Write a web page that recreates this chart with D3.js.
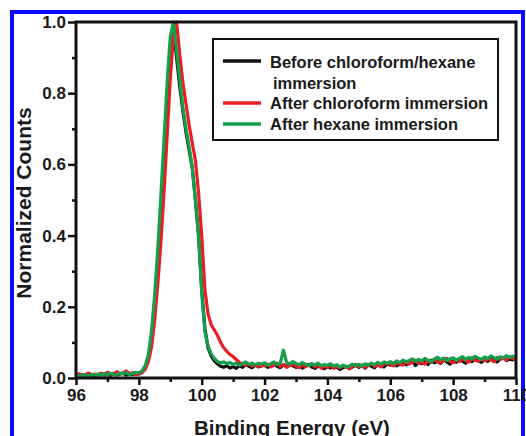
<!DOCTYPE html>
<html><head><meta charset="utf-8">
<script src="https://cdn.jsdelivr.net/npm/d3@7"></script>
<style>html,body{margin:0;padding:0;background:#fff;}svg{display:block;}</style>
</head><body>
<script>
const energies = [
96.0,96.1,96.2,96.3,96.4,96.5,96.6,96.7,96.8,96.9,
97.0,97.1,97.2,97.3,97.4,97.5,97.6,97.7,97.8,97.9,
98.0,98.1,98.2,98.3,98.4,98.5,98.6,98.7,98.8,98.9,
99.0,99.1,99.2,99.3,99.4,99.5,99.6,99.7,99.8,99.9,
100.0,100.1,100.2,100.3,100.4,100.5,100.6,100.7,100.8,100.9,
101.0,101.1,101.2,101.3,101.4,101.5,101.6,101.7,101.8,101.9,
102.0,102.1,102.2,102.3,102.4,102.5,102.6,102.7,102.8,102.9,
103.0,103.1,103.2,103.3,103.4,103.5,103.6,103.7,103.8,103.9,
104.0,104.1,104.2,104.3,104.4,104.5,104.6,104.7,104.8,104.9,
105.0,105.1,105.2,105.3,105.4,105.5,105.6,105.7,105.8,105.9,
106.0,106.1,106.2,106.3,106.4,106.5,106.6,106.7,106.8,106.9,
107.0,107.1,107.2,107.3,107.4,107.5,107.6,107.7,107.8,107.9,
108.0,108.1,108.2,108.3,108.4,108.5,108.6,108.7,108.8,108.9,
109.0,109.1,109.2,109.3,109.4,109.5,109.6,109.7,109.8,109.9,
110.0];

const beforeImmersion = [
0.006,0.004,0.009,0.007,0.011,0.008,0.005,0.010,0.012,0.008,
0.010,0.007,0.013,0.009,0.011,0.014,0.008,0.012,0.010,0.013,
0.011,0.016,0.028,0.055,0.11,0.21,0.33,0.47,0.63,0.79,
0.93,0.98,0.90,0.82,0.75,0.69,0.64,0.59,0.50,0.40,
0.25,0.14,0.085,0.062,0.048,0.040,0.033,0.030,0.034,0.028,
0.032,0.027,0.035,0.030,0.038,0.033,0.029,0.036,0.031,0.034,
0.038,0.030,0.035,0.041,0.033,0.029,0.037,0.032,0.039,0.034,
0.030,0.036,0.028,0.033,0.038,0.031,0.027,0.034,0.030,0.026,
0.032,0.028,0.035,0.030,0.024,0.029,0.033,0.027,0.031,0.036,
0.030,0.034,0.028,0.037,0.033,0.029,0.038,0.035,0.031,0.040,
0.036,0.042,0.034,0.039,0.045,0.037,0.041,0.048,0.035,0.044,
0.040,0.046,0.038,0.050,0.043,0.047,0.041,0.052,0.045,0.039,
0.048,0.044,0.053,0.047,0.042,0.051,0.046,0.055,0.049,0.044,
0.052,0.047,0.056,0.050,0.045,0.054,0.058,0.049,0.053,0.051,
0.055];

const afterChloroform = [
0.008,0.012,0.006,0.010,0.014,0.009,0.011,0.007,0.013,0.010,
0.016,0.012,0.009,0.018,0.011,0.014,0.020,0.012,0.015,0.010,
0.013,0.015,0.024,0.045,0.085,0.16,0.26,0.38,0.52,0.68,
0.84,0.96,1.00,0.91,0.83,0.77,0.71,0.66,0.61,0.52,
0.40,0.25,0.18,0.15,0.135,0.12,0.10,0.085,0.075,0.066,
0.060,0.052,0.044,0.040,0.036,0.039,0.034,0.037,0.032,0.036,
0.034,0.039,0.031,0.036,0.042,0.033,0.038,0.030,0.035,0.040,
0.033,0.029,0.037,0.032,0.035,0.040,0.031,0.036,0.028,0.033,
0.030,0.036,0.027,0.032,0.029,0.035,0.031,0.026,0.034,0.038,
0.032,0.037,0.030,0.035,0.041,0.033,0.036,0.031,0.039,0.042,
0.038,0.034,0.043,0.040,0.036,0.046,0.039,0.044,0.050,0.041,
0.045,0.039,0.048,0.044,0.053,0.046,0.042,0.049,0.055,0.047,
0.043,0.051,0.046,0.054,0.049,0.045,0.057,0.050,0.047,0.053,
0.049,0.055,0.051,0.046,0.058,0.052,0.056,0.050,0.060,0.054,
0.052];

const afterHexane = [
0.004,0.007,0.005,0.009,0.006,0.010,0.008,0.011,0.007,0.012,
0.009,0.013,0.010,0.008,0.014,0.011,0.015,0.009,0.013,0.016,
0.014,0.020,0.034,0.065,0.13,0.23,0.36,0.51,0.67,0.83,
0.96,1.00,0.92,0.84,0.76,0.70,0.65,0.59,0.50,0.40,
0.24,0.13,0.090,0.068,0.055,0.046,0.042,0.045,0.040,0.044,
0.038,0.042,0.036,0.040,0.045,0.038,0.042,0.037,0.041,0.039,
0.043,0.036,0.040,0.045,0.038,0.042,0.078,0.044,0.039,0.046,
0.041,0.037,0.043,0.039,0.035,0.040,0.036,0.042,0.034,0.038,
0.035,0.040,0.033,0.037,0.031,0.036,0.030,0.034,0.039,0.035,
0.038,0.033,0.040,0.036,0.042,0.037,0.044,0.039,0.045,0.041,
0.046,0.040,0.048,0.043,0.050,0.045,0.049,0.054,0.047,0.052,
0.048,0.055,0.050,0.046,0.053,0.058,0.051,0.056,0.049,0.054,
0.057,0.050,0.055,0.060,0.052,0.058,0.054,0.061,0.056,0.052,
0.059,0.055,0.062,0.057,0.053,0.060,0.056,0.063,0.058,0.061,
0.058];

const seriesNames = ["Before chloroform/hexane immersion", "After chloroform immersion", "After hexane immersion"];
const seriesColors = ["#111111", "#ec1c24", "#13a04c"];
const xTicks = [96, 98, 100, 102, 104, 106, 108, 110];
const xMinorTicks = [97, 99, 101, 103, 105, 107, 109];
const yTicks = [0.0, 0.2, 0.4, 0.6, 0.8, 1.0];
const yMinorTicks = [0.1, 0.3, 0.5, 0.7, 0.9];

const W = 526, H = 436;
const pL = 76, pR = 516, pT = 22, pB = 378;
const svg = d3.select("body").append("svg").attr("width", W).attr("height", H);
svg.append("rect").attr("width", W).attr("height", H).attr("fill", "#fff");
// blue frame
svg.append("rect").attr("x", 12).attr("y", 12).attr("width", 511).attr("height", 440)
  .attr("fill", "none").attr("stroke", "#0a0aff").attr("stroke-width", 4);

const x = d3.scaleLinear().domain([96, 110]).range([pL, pR]);
const y = d3.scaleLinear().domain([0, 1]).range([pB, pT]);

const FONT = "'Liberation Sans', Arial, sans-serif";

// series lines
const allSeries = [beforeImmersion, afterChloroform, afterHexane];
const line = d3.line().x((d, i) => x(energies[i])).y(d => y(d));
allSeries.forEach((s, k) => {
  svg.append("path").datum(s).attr("d", line).attr("fill", "none")
    .attr("stroke", seriesColors[k]).attr("stroke-width", 3.2).attr("stroke-linejoin", "round");
});

// axes
const xAxis = d3.axisBottom(x).tickValues(xTicks).tickFormat(d3.format("d")).tickSize(7).tickPadding(4);
const xMinor = d3.axisBottom(x).tickValues(xMinorTicks).tickFormat("").tickSize(4);
const yAxis = d3.axisLeft(y).tickValues(yTicks).tickFormat(d3.format(".1f")).tickSize(8).tickPadding(2);
const yMinor = d3.axisLeft(y).tickValues(yMinorTicks).tickFormat("").tickSize(4);

function style(g) {
  g.select(".domain").remove();
  g.selectAll(".tick line").attr("stroke", "#111").attr("stroke-width", 2.5);
  g.selectAll(".tick text").attr("fill", "#1a1a1a").style("font-family", FONT)
    .style("font-weight", "bold").style("font-size", "17px");
}
svg.append("g").attr("transform", `translate(0,${pB})`).call(xAxis).call(style);
svg.append("g").attr("transform", `translate(0,${pB})`).call(xMinor).call(style);
svg.append("g").attr("transform", `translate(${pL},0)`).call(yAxis).call(style);
svg.append("g").attr("transform", `translate(${pL},0)`).call(yMinor).call(style);

// frame
svg.append("rect").attr("x", pL).attr("y", pT).attr("width", pR - pL).attr("height", pB - pT)
  .attr("fill", "none").attr("stroke", "#111").attr("stroke-width", 3);

// titles
svg.append("text").attr("x", 292).attr("y", 428).attr("dy", "0.35em").attr("text-anchor", "middle")
  .style("font-family", FONT).style("font-weight", "bold").style("font-size", "20.5px").attr("fill", "#1a1a1a")
  .text("Binding Energy (eV)");
svg.append("text").attr("transform", `translate(24,203) rotate(-90)`).attr("dy", "0.35em").attr("text-anchor", "middle")
  .style("font-family", FONT).style("font-weight", "bold").style("font-size", "21px").attr("fill", "#1a1a1a")
  .text("Normalized Counts");

// legend
svg.append("rect").attr("x", 213).attr("y", 39).attr("width", 285).attr("height", 101)
  .attr("fill", "#fff").attr("stroke", "#111").attr("stroke-width", 2);
const legendRows = [
  {lineY: 61, texts: [["Before chloroform/hexane", 270, 62], ["immersion", 273, 83]], k: 0},
  {lineY: 103, texts: [["After chloroform immersion", 270, 103]], k: 1},
  {lineY: 124, texts: [["After hexane immersion", 270, 124]], k: 2}
];
legendRows.forEach(r => {
  svg.append("line").attr("x1", 223).attr("x2", 261).attr("y1", r.lineY).attr("y2", r.lineY)
    .attr("stroke", seriesColors[r.k]).attr("stroke-width", 3.5);
  r.texts.forEach(t => {
    svg.append("text").attr("x", t[1]).attr("y", t[2]).attr("dy", "0.35em")
      .style("font-family", FONT).style("font-weight", "bold").style("font-size", "16.5px").attr("fill", "#1a1a1a")
      .text(t[0]);
  });
});
</script>
</body></html>
